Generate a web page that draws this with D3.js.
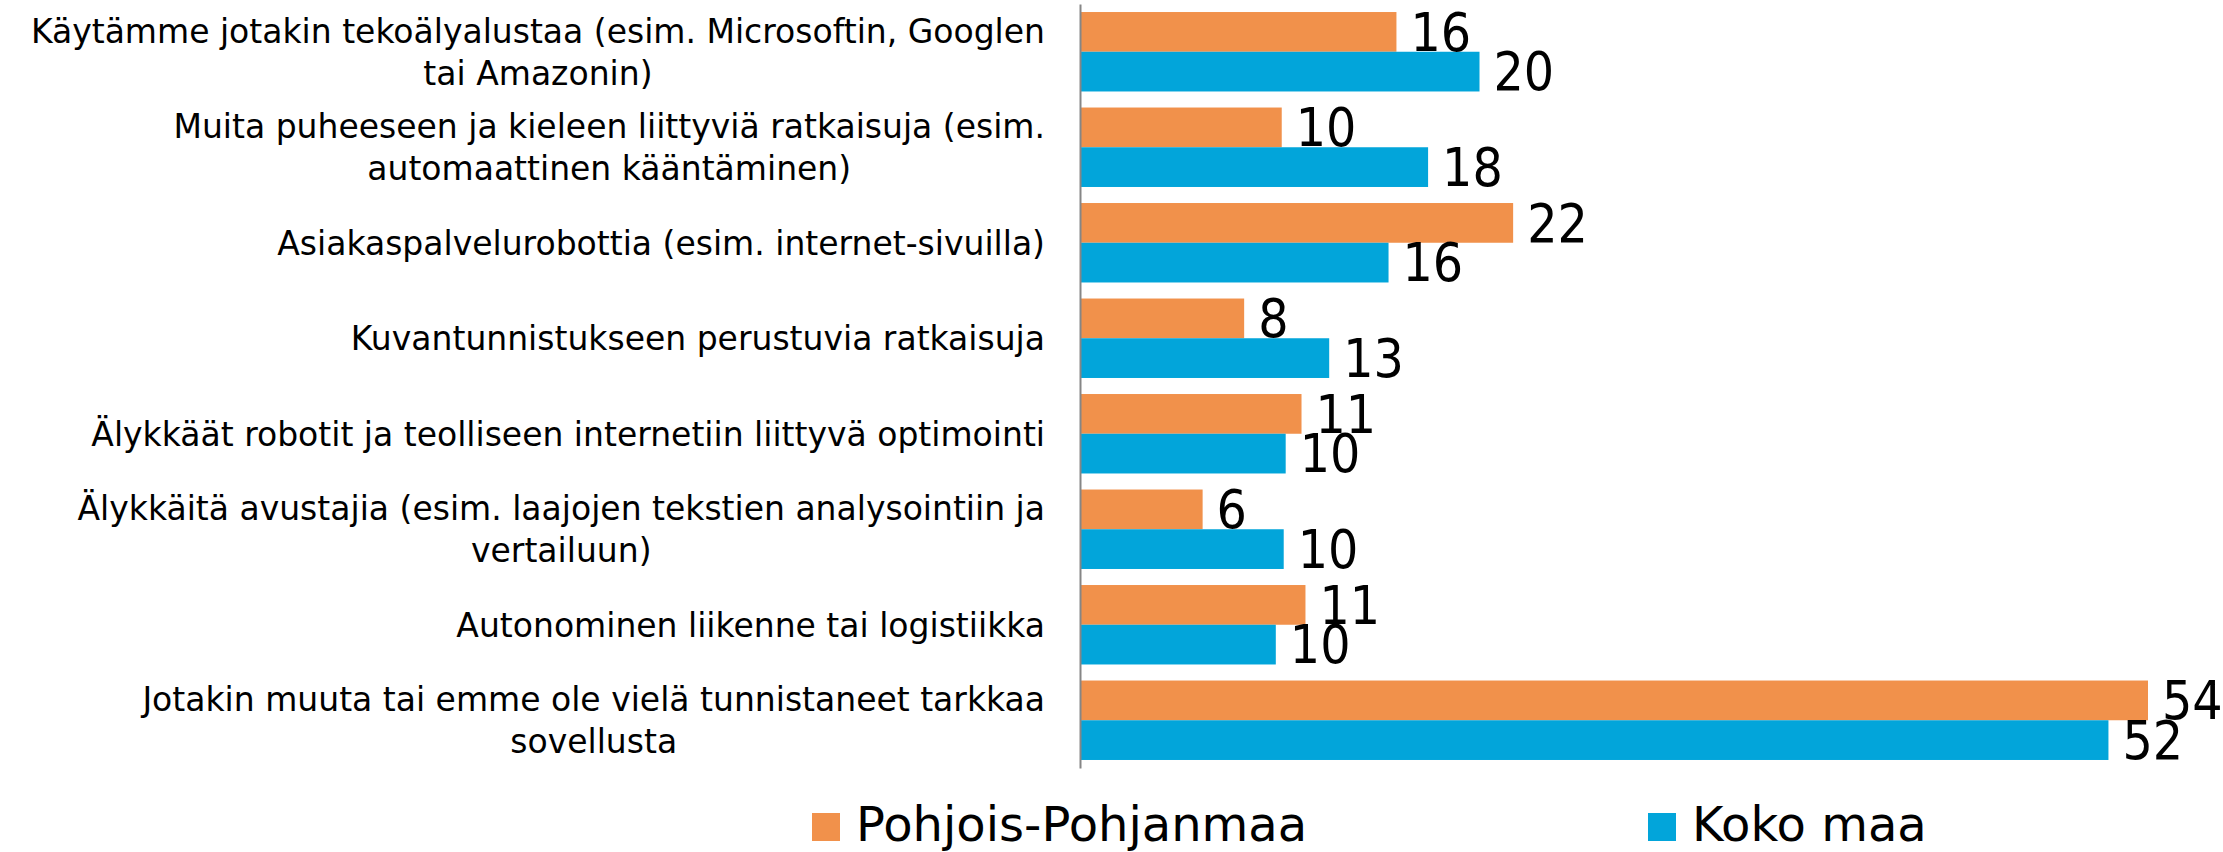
<!DOCTYPE html>
<html>
<head>
<meta charset="utf-8">
<script src="https://cdn.jsdelivr.net/npm/d3@7"></script>
<style>
    body { margin: 0; background: #fff; }
    text { font-family: "DejaVu Sans", Verdana, sans-serif; fill: #000; }
    .val { font-family: "DejaVu Sans Condensed", "DejaVu Sans", sans-serif; font-stretch: condensed; }
</style>
</head>
<body>
<div id="plotRegi"></div>
<script>
/* Data */
// Category labels, one entry per wrapped line
var categories = [
    ["Käytämme jotakin tekoälyalustaa (esim. Microsoftin, Googlen", "tai Amazonin)"],
    ["Muita puheeseen ja kieleen liittyviä ratkaisuja (esim.", "automaattinen kääntäminen)"],
    ["Asiakaspalvelurobottia (esim. internet-sivuilla)"],
    ["Kuvantunnistukseen perustuvia ratkaisuja"],
    ["Älykkäät robotit ja teolliseen internetiin liittyvä optimointi"],
    ["Älykkäitä avustajia (esim. laajojen tekstien analysointiin ja", "vertailuun)"],
    ["Autonominen liikenne tai logistiikka"],
    ["Jotakin muuta tai emme ole vielä tunnistaneet tarkkaa", "sovellusta"]
]

var series = ["Pohjois-Pohjanmaa", "Koko maa"]

// Percent values (bar lengths, labels are rounded)
var pohjoisPohjanmaa = [16.0, 10.2, 21.9, 8.3, 11.2, 6.2, 11.4, 54.0]
var kokoMaa = [20.2, 17.6, 15.6, 12.6, 10.4, 10.3, 9.9, 52.0]

var colors = ["#f1914b", "#02a5da"]


/* Drawing */
var width = 2223,
    height = 852

var svg = d3
    .select("#plotRegi")
    .append("svg")
    .attr("width", width)
    .attr("height", height)

var keys = categories.map(d => d.join(" "))

var data = keys.map((k, i) => ({
    key: k,
    lines: categories[i],
    values: [pohjoisPohjanmaa[i], kokoMaa[i]]
}))

// Scales
var scale_x = d3
    .scaleLinear()
    .domain([0, d3.max(pohjoisPohjanmaa.concat(kokoMaa))])
    .range([1080, 2148])

var scale_y = d3
    .scaleBand()
    .domain(keys)
    .range([4, 768])
    .paddingInner(0.168)
    .paddingOuter(0.084)

var scale_s = d3
    .scaleBand()
    .domain(series)
    .range([0, scale_y.bandwidth()])

var fmt = d3.format(".0f")

// Bars
var groups = svg
    .append("g")
    .attr("id", "bars")
    .selectAll("g")
    .data(data)
    .enter()
    .append("g")
    .attr("transform", d => "translate(0," + scale_y(d.key) + ")")

groups
    .selectAll("rect")
    .data(d => d.values.map((v, j) => ({ s: series[j], v: v, j: j })))
    .enter()
    .append("rect")
    .attr("x", scale_x(0))
    .attr("y", d => scale_s(d.s))
    .attr("width", d => scale_x(d.v) - scale_x(0))
    .attr("height", scale_s.bandwidth())
    .style("fill", d => colors[d.j])

// Value labels
groups
    .selectAll("text")
    .data(d => d.values.map((v, j) => ({ s: series[j], v: v, j: j })))
    .enter()
    .append("text")
    .attr("class", "val")
    .attr("x", d => scale_x(d.v) + 14)
    .attr("y", d => scale_s(d.s) + scale_s.bandwidth() - 1)
    .style("font-size", "53px")
    .text(d => fmt(d.v))

// Vertical axis line
svg
    .append("g")
    .attr("id", "AxisY")
    .attr("transform", "translate(" + scale_x(0) + ",0)")
    .call(d3.axisLeft(scale_y).tickSize(0).tickFormat(""))
    .call(g => g.select(".domain").attr("stroke", "#868686").attr("stroke-width", 2))

// Category labels: lines centred on each other, block right aligned
var labelRight = 1045,
    lineGap = 42

var cats = svg
    .append("g")
    .attr("id", "Categories")
    .selectAll("g")
    .data(data)
    .enter()
    .append("g")

cats.each(function (d) {
    var g = d3.select(this)
    var cy = scale_y(d.key) + scale_y.bandwidth() / 2
    var n = d.lines.length
    var t = g
        .selectAll("text")
        .data(d.lines)
        .enter()
        .append("text")
        .attr("text-anchor", "middle")
        .attr("y", (l, i) => cy + (i - (n - 1) / 2) * lineGap + 12)
        .style("font-size", "33px")
        .text(l => l)
    var w = d3.max(t.nodes(), node => node.getComputedTextLength())
    t.attr("x", labelRight - w / 2)
})

// Legend
var legendX = [812, 1648]

var legend = svg
    .append("g")
    .attr("id", "Legend")
    .selectAll("g")
    .data(series)
    .enter()
    .append("g")
    .attr("transform", (d, i) => "translate(" + legendX[i] + ",813)")

legend
    .append("rect")
    .attr("width", 28)
    .attr("height", 28)
    .style("fill", (d, i) => colors[i])

legend
    .append("text")
    .attr("x", 44)
    .attr("y", 28)
    .style("font-size", "48px")
    .text(d => d)
</script>
</body>
</html>
